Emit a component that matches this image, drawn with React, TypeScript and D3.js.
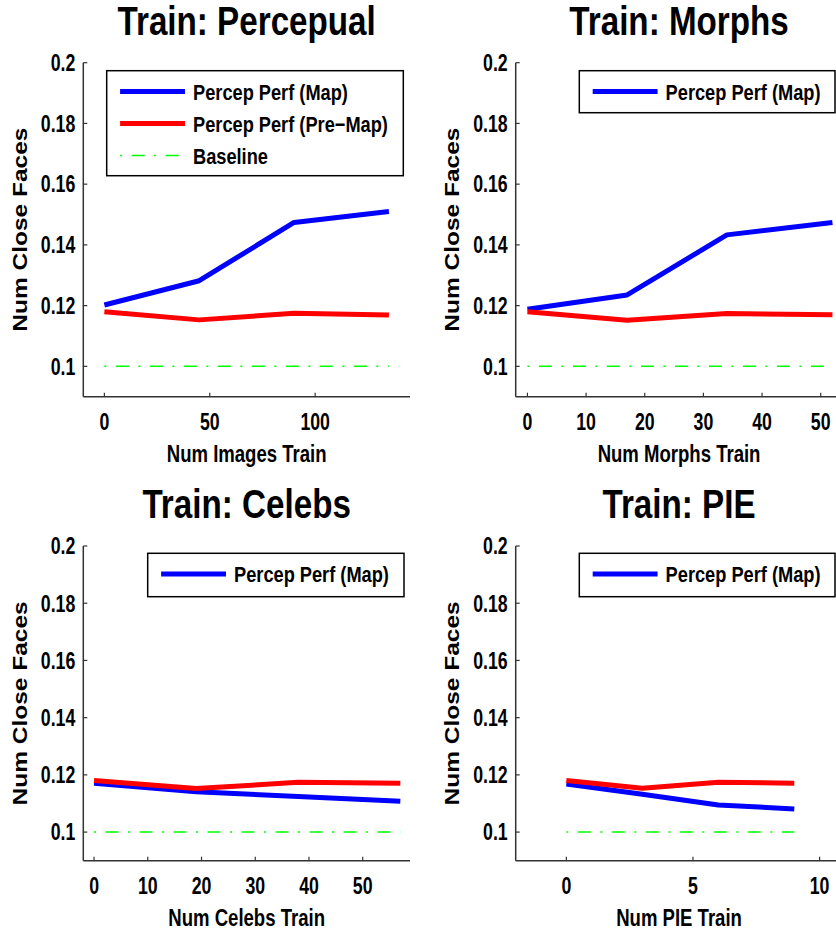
import React from "react";
import * as d3 from "d3";

// ---------- data ----------
const titles = ["Train: Percepual", "Train: Morphs", "Train: Celebs", "Train: PIE"];
const xLabels = ["Num Images Train", "Num Morphs Train", "Num Celebs Train", "Num PIE Train"];
const yLabel = "Num Close Faces";

const xPercep = [0, 45, 90, 135];
const xMorphs = [0, 17, 34, 52];
const xCelebs = [0, 19, 38, 57];
const xPIE = [0, 3, 6, 9];

const mapPercep = [0.1202, 0.1282, 0.1474, 0.151];
const mapMorphs = [0.1188, 0.1235, 0.1433, 0.1474];
const mapCelebs = [0.1171, 0.1141, 0.1124, 0.1108];
const mapPIE = [0.1168, 0.1132, 0.1095, 0.1081];

const preMapPercep = [0.118, 0.1153, 0.1175, 0.1169];
const preMapMorphs = [0.118, 0.1152, 0.1174, 0.117];
const preMapCelebs = [0.118, 0.1152, 0.1174, 0.1171];
const preMapPIE = [0.118, 0.1153, 0.1174, 0.1171];

const baselineValue = 0.1;

const xDomains: [number, number][] = [[-10, 145], [-2, 53.7], [-2, 58.8], [-2, 10.9]];
const yDomain: [number, number] = [0.09, 0.2];

const yTicks = [0.1, 0.12, 0.14, 0.16, 0.18, 0.2];
const yTickLabels = ["0.1", "0.12", "0.14", "0.16", "0.18", "0.2"];
const xTicksPercep = [0, 50, 100];
const xTicksMorphs = [0, 10, 20, 30, 40, 50];
const xTicksCelebs = [0, 10, 20, 30, 40, 50];
const xTicksPIE = [0, 5, 10];

const legendAll = ["Percep Perf (Map)", "Percep Perf (Pre\u2212Map)", "Baseline"];
const legendMapOnly = ["Percep Perf (Map)"];

// ---------- layout ----------
const W = 836;
const H = 934;
const FONT = "'Liberation Sans', Arial, Helvetica, sans-serif";

const panelBoxes = [
  { left: 83.3, right: 410, top: 62.7, bottom: 396.7 },
  { left: 515.7, right: 842.4, top: 62.7, bottom: 396.7 },
  { left: 83.3, right: 410, top: 546, bottom: 860.7 },
  { left: 515.7, right: 842.4, top: 546, bottom: 860.7 },
];
const legendBoxes = [
  { x: 106.7, y: 70.7, w: 296.6, h: 105 },
  { x: 579.3, y: 70.7, w: 255.7, h: 42 },
  { x: 147.7, y: 553.3, w: 256.3, h: 43.4 },
  { x: 579.3, y: 553.3, w: 255.7, h: 43.4 },
];

const BLUE = "#0000ff";
const RED = "#ff0000";
const GREEN = "#00ff00";
const AXIS = "#333";

type PanelDef = {
  xs: number[];
  map: number[];
  pre: number[];
  xTicks: number[];
  legend: string[];
};

const panels: PanelDef[] = [
  { xs: xPercep, map: mapPercep, pre: preMapPercep, xTicks: xTicksPercep, legend: legendAll },
  { xs: xMorphs, map: mapMorphs, pre: preMapMorphs, xTicks: xTicksMorphs, legend: legendMapOnly },
  { xs: xCelebs, map: mapCelebs, pre: preMapCelebs, xTicks: xTicksCelebs, legend: legendMapOnly },
  { xs: xPIE, map: mapPIE, pre: preMapPIE, xTicks: xTicksPIE, legend: legendMapOnly },
];

function T(props: {
  x: number;
  y: number;
  size: number;
  sq?: number;
  anchor?: string;
  rotate?: boolean;
  children: React.ReactNode;
}) {
  const { x, y, size, sq = 0.83, anchor = "start", rotate = false, children } = props;
  const tr = `translate(${x},${y}) scale(${sq},1)` + (rotate ? " rotate(-90)" : "");
  return (
    <text
      transform={tr}
      fontFamily={FONT}
      fontWeight="bold"
      fontSize={size}
      textAnchor={anchor}
      fill="#000"
    >
      {children}
    </text>
  );
}

function Panel({ idx }: { idx: number }) {
  const p = panels[idx];
  const b = panelBoxes[idx];
  const lb = legendBoxes[idx];
  const x = d3.scaleLinear().domain(xDomains[idx]).range([b.left, b.right]);
  const y = d3.scaleLinear().domain(yDomain).range([b.bottom, b.top]);
  const line = d3
    .line<[number, number]>()
    .x((d) => x(d[0]))
    .y((d) => y(d[1]));
  const mapPts = p.xs.map((v, i) => [v, p.map[i]] as [number, number]);
  const prePts = p.xs.map((v, i) => [v, p.pre[i]] as [number, number]);
  const basePts: [number, number][] = [
    [p.xs[0], baselineValue],
    [p.xs[p.xs.length - 1], baselineValue],
  ];
  const cx = (b.left + b.right) / 2;
  const cy = (b.top + b.bottom) / 2;
  const dash = "2,9.5,13,9.5";
  return (
    <g>
      <T x={cx} y={b.top - 27.7} size={40} anchor="middle">
        {titles[idx]}
      </T>
      <line x1={b.left} x2={b.left} y1={b.top} y2={b.bottom} stroke={AXIS} strokeWidth={1.5} />
      <line x1={b.left} x2={b.right} y1={b.bottom} y2={b.bottom} stroke={AXIS} strokeWidth={1.5} />
      {yTicks.map((t, i) => (
        <g key={"yt" + i}>
          <line x1={b.left} x2={b.left + 4} y1={y(t)} y2={y(t)} stroke={AXIS} strokeWidth={1.2} />
          <T x={b.left - 8} y={y(t) + 8.3} size={23} sq={0.77} anchor="end">
            {yTickLabels[i]}
          </T>
        </g>
      ))}
      {p.xTicks.map((t, i) => (
        <g key={"xt" + i}>
          <line x1={x(t)} x2={x(t)} y1={b.bottom} y2={b.bottom - 4} stroke={AXIS} strokeWidth={1.2} />
          <T x={x(t)} y={b.bottom + 33} size={23} sq={0.77} anchor="middle">
            {String(t)}
          </T>
        </g>
      ))}
      <T x={cx} y={b.bottom + 65.5} size={23.5} sq={0.79} anchor="middle">
        {xLabels[idx]}
      </T>
      <T x={b.left - 56.6} y={cy} size={24.5} anchor="middle" rotate>
        {yLabel}
      </T>
      <path d={line(mapPts) || ""} fill="none" stroke={BLUE} strokeWidth={5} strokeLinejoin="round" />
      <path d={line(prePts) || ""} fill="none" stroke={RED} strokeWidth={5} strokeLinejoin="round" />
      <path d={line(basePts) || ""} fill="none" stroke={GREEN} strokeWidth={1.5} strokeDasharray={dash} />
      <rect x={lb.x} y={lb.y} width={lb.w} height={lb.h} fill="#fff" stroke="#000" strokeWidth={1.5} />
      {p.legend.map((lab, i) => {
        const ry = lb.y + 20.8 + i * 32;
        const color = i === 0 ? BLUE : i === 1 ? RED : GREEN;
        return (
          <g key={"lg" + i}>
            <line
              x1={lb.x + 13.4}
              x2={lb.x + 78.3}
              y1={ry}
              y2={ry}
              stroke={color}
              strokeWidth={i === 2 ? 1.5 : 5}
              strokeDasharray={i === 2 ? dash : undefined}
            />
            <T x={lb.x + 86.3} y={ry + 8.2} size={22.5} sq={0.81} anchor="start">
              {lab}
            </T>
          </g>
        );
      })}
    </g>
  );
}

export default function App() {
  return (
    <svg
      width={W}
      height={H}
      viewBox={`0 0 ${W} ${H}`}
      style={{ position: "absolute", left: 0, top: 0, background: "#fff" }}
    >
      <rect x={0} y={0} width={W} height={H} fill="#fff" />
      {[0, 1, 2, 3].map((i) => (
        <Panel key={i} idx={i} />
      ))}
    </svg>
  );
}
